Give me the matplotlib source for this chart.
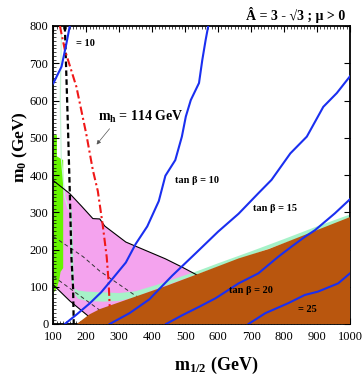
import numpy as np
import matplotlib
matplotlib.use("Agg")
import matplotlib.pyplot as plt
from matplotlib.ticker import MultipleLocator

plt.rcParams['font.family'] = ['Liberation Serif', 'DejaVu Serif']
plt.rcParams['mathtext.fontset'] = 'custom'
plt.rcParams['mathtext.rm'] = 'Liberation Serif'
plt.rcParams['mathtext.bf'] = 'Liberation Serif:bold'
plt.rcParams['mathtext.it'] = 'Liberation Serif:italic'

# ---------------- data (m_1/2, m_0) in GeV ----------------
brown_x = [171, 210, 241, 341, 442, 532, 662, 753, 1000]
brown_y = [0, 26, 40, 71, 102, 132, 176, 201, 287]

pink_upper_x = [100, 150, 185, 220, 241, 256, 320, 440, 490, 537]
pink_upper_y = [385, 350, 317, 283, 282, 263, 220, 175, 153, 131]
pink_lower_x = [100, 150, 205]
pink_lower_y = [105, 62, 22]

lime_x = [102, 111, 111, 130, 130, 122, 118, 110, 102]
lime_y = [507, 507, 450, 440, 150, 140, 118, 95, 85]

band_upper_x = [152, 153, 155, 160, 175, 200, 250, 300, 350, 421, 480, 540, 600, 700, 800, 900, 1000]
band_upper_y = [306, 200, 120, 98, 90, 87, 85, 83, 88, 107, 125, 143, 163, 195, 228, 262, 294]
band_lower_x = [1000, 400, 350, 300, 250, 200, 175, 165, 162, 160, 156]
band_lower_y = [280, 90, 72, 62, 60, 62, 68, 80, 110, 200, 306]

pale_x = [125, 121, 124, 135, 145, 152]
pale_y = [800, 600, 450, 340, 310, 306]

dash1_x = [100, 190, 241, 351, 362]
dash1_y = [235, 181, 142, 75, 72]
dash2_x = [100, 241, 252]
dash2_y = [128, 37, 32]

chi_x = [135, 145, 150, 155, 160, 162]
chi_y = [800, 512, 355, 178, 97, 0]

mh_x = [120, 135, 170, 200, 220, 235, 250, 262, 268, 271]
mh_y = [800, 736, 637, 510, 413, 357, 265, 180, 110, 48]

tb10a_x = [100, 125, 140, 150]
tb10a_y = [646, 691, 754, 800]
tb10_x = [135, 170, 210, 245, 280, 320, 350, 385, 420, 440, 470, 490, 502, 517, 542, 552, 562, 570]
tb10_y = [0, 25, 55, 85, 122, 165, 215, 262, 330, 398, 440, 503, 557, 601, 647, 709, 762, 800]
tb15_x = [271, 331, 391, 461, 532, 600, 662, 722, 762, 819, 869, 919, 960, 1000]
tb15_y = [0, 29, 66, 130, 190, 248, 296, 351, 387, 458, 503, 583, 620, 665]
tb20_x = [442, 490, 542, 592, 662, 722, 783, 823, 863, 894, 954, 1000]
tb20_y = [0, 23, 46, 69, 109, 136, 181, 208, 234, 252, 297, 335]
tb25_x = [692, 743, 813, 863, 903, 964, 1000]
tb25_y = [0, 29, 56, 78, 87, 109, 136]

x_ticks = [100, 200, 300, 400, 500, 600, 700, 800, 900, 1000]
y_ticks = [0, 100, 200, 300, 400, 500, 600, 700, 800]

# ---------------- figure ----------------
fig = plt.figure(figsize=(3.64, 3.82), dpi=100)
ax = fig.add_axes([53.3/364, 1-324/382, (350-53.3)/364, (324-26)/382])

pink_c = '#F4A3EE'
brown_c = '#B9560E'
lime_c = '#66F500'
band_c = '#A6F2C8'

# pink region
px = pink_upper_x + [545, 215] + pink_lower_x[::-1]
py = pink_upper_y + [0, 0] + pink_lower_y[::-1]
ax.fill(px, py, color=pink_c, lw=0, zorder=1)

# lime region
ax.fill(lime_x, lime_y, color=lime_c, lw=0, zorder=1.2)

# coannihilation band
ax.fill(band_upper_x + band_lower_x, band_upper_y + band_lower_y, color=band_c, lw=0, zorder=1.5)
ax.plot(pale_x, pale_y, color='#C8F5D8', lw=0.9, zorder=1.5)

# thin dashed lines
ax.plot(dash1_x, dash1_y, color='#333333', lw=0.7, ls=(0, (4, 3)), zorder=1.8)
ax.plot(dash2_x, dash2_y, color='#333333', lw=0.7, ls=(0, (4, 3)), zorder=1.8)

# pink boundaries
ax.plot(pink_upper_x, pink_upper_y, color='black', lw=0.8, zorder=2.5)
ax.plot(pink_lower_x, pink_lower_y, color='black', lw=0.8, zorder=2.5)

# brown region
ax.fill(brown_x + [1000], brown_y + [0], color=brown_c, lw=0, zorder=3)

# chargino dashed
ax.plot(chi_x, chi_y, color='black', lw=1.6, ls=(0, (2.5, 1.5)), zorder=4)
# higgs line
ax.plot(mh_x, mh_y, color='#F01818', lw=1.5, ls=(0, (4, 1.5, 1, 1.5)), zorder=4)

# tan beta contours
for xs, ys in [(tb10a_x, tb10a_y), (tb10_x, tb10_y), (tb15_x, tb15_y), (tb20_x, tb20_y), (tb25_x, tb25_y)]:
    ax.plot(xs, ys, color='#1A2FF0', lw=1.5, zorder=5)

# labels in plot
lab = dict(fontsize=7.5, fontweight='bold', zorder=6, ha='center', va='center')
ax.text(199, 754, '= 10', **lab)
ax.text(535, 386, 'tan β = 10', **lab)
ax.text(774, 311, 'tan β = 15', **lab)
ax.text(701, 89, 'tan β = 20', **lab)
ax.text(870, 40, '= 25', **lab)

ax.text(235, 556, r'$\mathbf{m}_{\mathbf{h}}$ = 114 GeV', fontsize=10, fontweight='bold',
        ha='left', va='center', zorder=6)
ax.annotate('', xy=(226, 476), xytext=(276, 530),
            arrowprops=dict(arrowstyle='-|>', color='#555555', lw=0.5, mutation_scale=6), zorder=6)

ax.set_xlim(100, 1000)
ax.set_ylim(0, 800)
ax.set_xticks(x_ticks)
ax.set_yticks(y_ticks)
ax.xaxis.set_minor_locator(MultipleLocator(10))
ax.yaxis.set_minor_locator(MultipleLocator(10))
ax.tick_params(which='both', direction='in', top=True, right=True, labelsize=9)
ax.tick_params(axis='x', which='major', pad=5)
ax.tick_params(axis='y', which='major', pad=3.5)
ax.tick_params(which='major', length=4, width=0.8)
ax.tick_params(which='minor', length=2, width=0.5)
ax.tick_params(axis='y', which='minor', right=False)
for s in ax.spines.values():
    s.set_linewidth(1.3)

fig.text(216/364, 1-365/382, r'$\mathbf{m}_{\mathbf{1/2}}$ (GeV)', fontsize=13, fontweight='bold',
         ha='center', va='center')
fig.text(20/364, 1-147/382, r'$\mathbf{m}_{\mathbf{0}}$ (GeV)', fontsize=12.5, fontweight='bold',
         ha='center', va='center', rotation=90)
fig.text(345/364, 1-15/382, 'Â = 3 - √3 ; μ > 0', fontsize=10, fontweight='bold',
         ha='right', va='center')

fig.savefig('out.png', dpi=100)
